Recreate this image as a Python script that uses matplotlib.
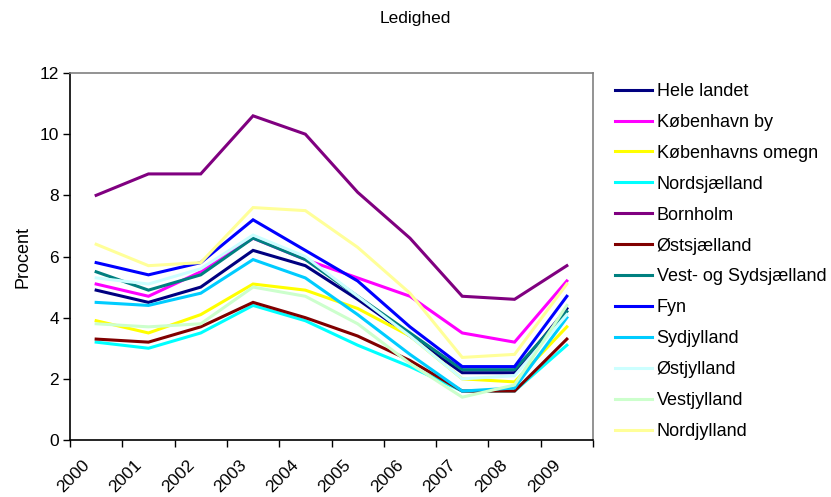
import matplotlib
matplotlib.use("Agg")
import matplotlib.pyplot as plt
import matplotlib.transforms as mtransforms

plt.rcParams['font.family'] = ['Liberation Sans', 'DejaVu Sans']

years = ["2000", "2001", "2002", "2003", "2004", "2005", "2006", "2007", "2008", "2009"]

hele_landet = [4.9, 4.5, 5.0, 6.2, 5.7, 4.6, 3.4, 2.2, 2.2, 4.3]
koebenhavn_by = [5.1, 4.7, 5.5, 6.6, 5.9, 5.3, 4.7, 3.5, 3.2, 5.2]
koebenhavns_omegn = [3.9, 3.5, 4.1, 5.1, 4.9, 4.3, 3.4, 2.0, 1.9, 3.7]
nordsjaelland = [3.2, 3.0, 3.5, 4.4, 3.9, 3.1, 2.4, 1.6, 1.6, 3.1]
bornholm = [8.0, 8.7, 8.7, 10.6, 10.0, 8.1, 6.6, 4.7, 4.6, 5.7]
oestsjaelland = [3.3, 3.2, 3.7, 4.5, 4.0, 3.4, 2.6, 1.6, 1.6, 3.3]
vest_sydsjaelland = [5.5, 4.9, 5.4, 6.6, 5.9, 4.7, 3.5, 2.3, 2.3, 4.2]
fyn = [5.8, 5.4, 5.8, 7.2, 6.2, 5.2, 3.7, 2.4, 2.4, 4.7]
sydjylland = [4.5, 4.4, 4.8, 5.9, 5.3, 4.1, 2.8, 1.6, 1.7, 4.0]
oestjylland = [5.3, 5.1, 5.6, 6.7, 6.0, 4.7, 3.4, 2.0, 2.1, 4.1]
vestjylland = [3.8, 3.7, 3.8, 5.0, 4.7, 3.8, 2.5, 1.4, 1.8, 4.4]
nordjylland = [6.4, 5.7, 5.8, 7.6, 7.5, 6.3, 4.8, 2.7, 2.8, 5.1]

series_names = ["Hele landet", "København by", "Københavns omegn", "Nordsjælland",
                "Bornholm", "Østsjælland", "Vest- og Sydsjælland", "Fyn",
                "Sydjylland", "Østjylland", "Vestjylland", "Nordjylland"]
series_values = [hele_landet, koebenhavn_by, koebenhavns_omegn, nordsjaelland,
                 bornholm, oestsjaelland, vest_sydsjaelland, fyn,
                 sydjylland, oestjylland, vestjylland, nordjylland]
series_colors = ["#000080", "#FF00FF", "#FFFF00", "#00FFFF", "#800080", "#800000",
                 "#008080", "#0000FF", "#00CCFF", "#CCFFFF", "#CCFFCC", "#FFFF99"]

W, H = 831, 497
fig = plt.figure(figsize=(W / 100, H / 100), dpi=100)
ax = fig.add_axes([70 / W, 1 - 440 / H, (593 - 70) / W, (440 - 73) / H])

x = list(range(len(years)))
handles = []
for name, vals, col in zip(series_names, series_values, series_colors):
    h, = ax.plot(x, vals, color=col, lw=2.2, label=name, solid_joinstyle='miter')
    handles.append(h)

ax.set_xlim(-0.5, len(years) - 0.5)
ax.set_ylim(0, 12)
ax.set_yticks(range(0, 13, 2))
ax.tick_params(axis='y', direction='out', length=5, width=1, labelsize=12.5, pad=3)

ax.set_xticks([i - 0.5 for i in range(len(years) + 1)])
ax.set_xticklabels([])
ax.tick_params(axis='x', which='major', direction='out', length=5, width=1)
ax.set_xticks(x, years, minor=True)
ax.tick_params(axis='x', which='minor', length=0, pad=16, labelsize=12.5)
offset = mtransforms.ScaledTranslation(-9 / 100, 0, fig.dpi_scale_trans)
for lab in ax.get_xticklabels(minor=True):
    lab.set_rotation(45)
    lab.set_ha('right')
    lab.set_va('center')
    lab.set_rotation_mode('anchor')
    lab.set_transform(lab.get_transform() + offset)

for side in ['left', 'bottom']:
    ax.spines[side].set_color('black')
    ax.spines[side].set_linewidth(1.2)
for side in ['top', 'right']:
    ax.spines[side].set_color('#808080')
    ax.spines[side].set_linewidth(1.2)

ax.set_ylabel("Procent", fontsize=13, labelpad=6)
fig.text(0.5, 1 - 18 / H, "Ledighed", ha='center', va='center', fontsize=12.5)

fig.legend(handles=handles, loc='upper left', bbox_to_anchor=(615 / W, 1 - 83 / H),
           frameon=False, fontsize=13, handlelength=2.05, handletextpad=0.25,
           labelspacing=0.77, borderpad=0, borderaxespad=0)

fig.savefig("out.png", dpi=100)
